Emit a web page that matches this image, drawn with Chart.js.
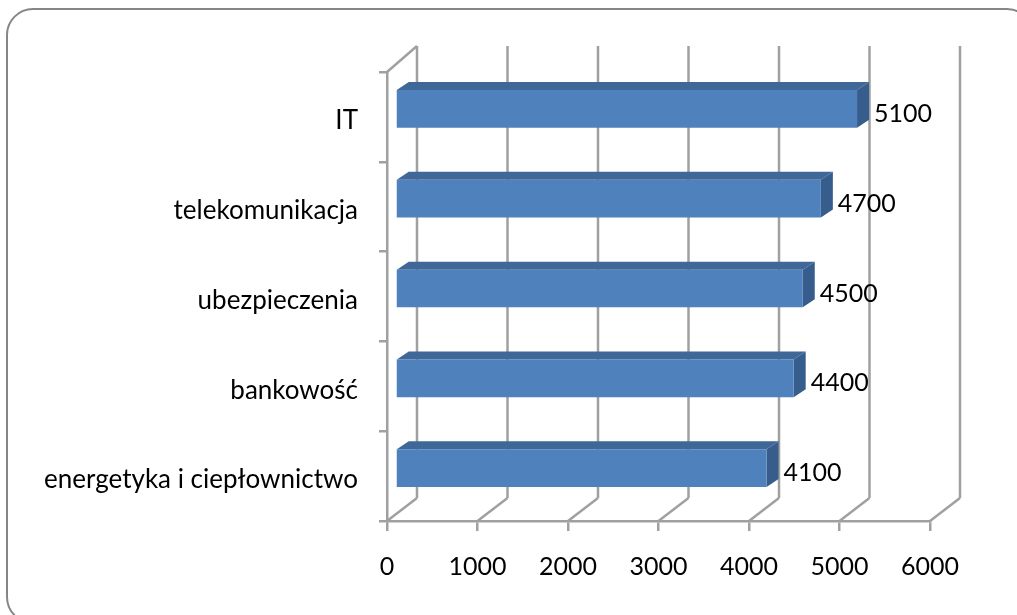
<!DOCTYPE html>
<html>
<head>
<meta charset="utf-8">
<script src="https://cdn.jsdelivr.net/npm/chart.js@4"></script>
<style>
    html, body { margin: 0; padding: 0; background: #fff; overflow: hidden; }
    #wrap { position: relative; width: 1017px; height: 615px; overflow: hidden; }
    #frame { position: absolute; left: 6px; top: 8px; width: 1024px; height: 612px; border: 2.5px solid #868686; border-radius: 27px; filter: blur(0.4px); }
    canvas { position: absolute; left: 0; top: 0; filter: blur(0.5px); }
</style>
</head>
<body>
<div id="wrap">
    <div id="frame"></div>
    <canvas id="myChart" width="1017" height="615"></canvas>
</div>
<script>
const categories = ['IT', 'telekomunikacja', 'ubezpieczenia', 'bankowość', 'energetyka i ciepłownictwo'];
const salaries = [5100, 4700, 4500, 4400, 4100];
const xTicks = [0, 1000, 2000, 3000, 4000, 5000, 6000];

const wallX = 30, wallY = 23, wallTopY = 26;   // depth of the back wall
const barX = 8.5, barY = 8;                    // where the bar front sits inside that depth
const faceX = 12, faceY = 8;                   // depth of one bar
const gridColor = '#a0a0a0';
const fontName = 'Lato';

function line(ctx, x1, y1, x2, y2) {
    ctx.beginPath();
    ctx.moveTo(x1, y1);
    ctx.lineTo(x2, y2);
    ctx.stroke();
}

const walls = {
    id: 'walls',
    beforeDatasetsDraw(chart) {
        const ctx = chart.ctx;
        const x = chart.scales.x;
        const y = chart.scales.y;
        ctx.save();
        ctx.strokeStyle = gridColor;
        ctx.lineWidth = 2.5;
        xTicks.forEach(v => {
            const px = x.getPixelForValue(v);
            line(ctx, px, y.bottom, px + wallX, y.bottom - wallY);
            line(ctx, px + wallX, y.bottom - wallY, px + wallX, y.top - wallTopY);
        });
        line(ctx, x.left, y.top, x.left + wallX, y.top - wallTopY);
        ctx.restore();
    },
    beforeDatasetDraw(chart, args) {
        const ctx = chart.ctx;
        ctx.save();
        ctx.translate(barX, -barY);
        args.meta.data.forEach(bar => {
            const top = bar.y - bar.height / 2;
            const bottom = bar.y + bar.height / 2;
            ctx.fillStyle = '#3f6797';
            ctx.beginPath();
            ctx.moveTo(bar.base, top);
            ctx.lineTo(bar.base + faceX, top - faceY);
            ctx.lineTo(bar.x + faceX, top - faceY);
            ctx.lineTo(bar.x, top);
            ctx.fill();
            ctx.fillStyle = '#375d8c';
            ctx.beginPath();
            ctx.moveTo(bar.x, top);
            ctx.lineTo(bar.x + faceX, top - faceY);
            ctx.lineTo(bar.x + faceX, bottom - faceY);
            ctx.lineTo(bar.x, bottom);
            ctx.fill();
        });
    },
    afterDatasetDraw(chart) {
        chart.ctx.restore();
    },
    afterDatasetsDraw(chart) {
        const ctx = chart.ctx;
        ctx.save();
        ctx.fillStyle = '#000';
        ctx.font = '25px ' + fontName;
        ctx.textBaseline = 'middle';
        chart.getDatasetMeta(0).data.forEach((bar, i) => {
            ctx.fillText(salaries[i], bar.x + barX + 17, bar.y - barY + 5);
        });
        ctx.restore();
    }
};

let ctx = document.getElementById('myChart').getContext('2d');
let chart = new Chart(ctx, {
    type: 'bar',
    data: {
        labels: categories,
        datasets: [
            {
                data: salaries,
                backgroundColor: '#4f81bd',
                barPercentage: 0.42,
                categoryPercentage: 1
            }
        ]
    },
    options: {
        indexAxis: 'y',
        responsive: false,
        animation: false,
        layout: {
            autoPadding: false,
            padding: { top: 72, right: 87, bottom: 0, left: 0 }
        },
        plugins: {
            legend: { display: false },
            tooltip: { enabled: false }
        },
        scales: {
            x: {
                min: 0,
                max: 6000,
                afterFit: scale => { scale.height = 94; },
                afterBuildTicks: scale => { scale.ticks = xTicks.map(v => ({ value: v })); },
                grid: { drawOnChartArea: false, color: gridColor, lineWidth: 2.5, tickLength: 10 },
                border: { color: gridColor, width: 2.5 },
                ticks: { color: '#000', font: { family: fontName, size: 25 }, padding: 21, maxRotation: 0, callback: v => v }
            },
            y: {
                afterFit: scale => { scale.width = 387; },
                grid: { drawOnChartArea: false, color: gridColor, lineWidth: 2.5, tickLength: 8 },
                border: { color: gridColor, width: 2.5 },
                ticks: { color: '#000', font: { family: fontName, size: 26 }, padding: 21, labelOffset: 4, autoSkip: false }
            }
        }
    },
    plugins: [walls]
});
</script>
</body>
</html>
